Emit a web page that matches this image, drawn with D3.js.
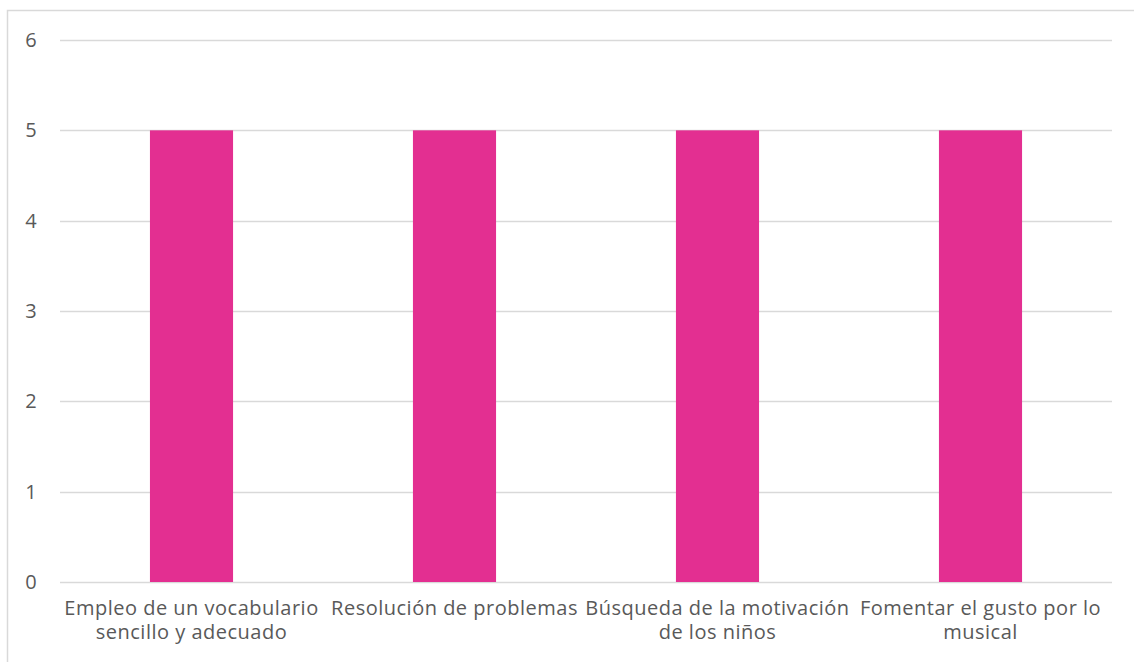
<!DOCTYPE html>
<html>
<head>
<meta charset="utf-8">
<script src="https://cdn.jsdelivr.net/npm/d3@7"></script>
<style>
  body { margin: 0; background: #fff; }
  svg text { font-family: "Open Sans", sans-serif; fill: #595959; }
</style>
</head>
<body>
<div id="cont"></div>
<script>
// data //
var categories = ["Empleo de un vocabulario sencillo y adecuado", "Resolución de problemas",
  "Búsqueda de la motivación de los niños", "Fomentar el gusto por lo musical"];
var values = [5, 5, 5, 5];
var yTicks = [0, 1, 2, 3, 4, 5, 6];

var W = 1134, H = 662;
var svg = d3.select("#cont").append("svg").attr("width", W).attr("height", H);

// outer frame (only top and left are visible in the picture)
svg.append("path")
  .attr("d", "M7.5," + H + "V10.5H" + W)
  .attr("fill", "none").attr("stroke", "#d9d9d9").attr("stroke-width", 1.5);

var mLeft = 60, mRight = 1112, mTop = 40, mBottom = 582;

var x = d3.scaleBand().domain(categories).range([mLeft, mRight]).padding(0);
var y = d3.scaleLinear().domain([0, 6]).range([mBottom, mTop]);

// grid
svg.append("g").selectAll("line").data(yTicks).join("line")
  .attr("x1", mLeft).attr("x2", mRight)
  .attr("y1", function(d) { return Math.round(y(d)) + 0.5; })
  .attr("y2", function(d) { return Math.round(y(d)) + 0.5; })
  .attr("stroke", "#d9d9d9").attr("stroke-width", 1.3);

// y labels
svg.append("g").selectAll("text").data(yTicks).join("text")
  .attr("x", 31).attr("y", function(d) { return y(d); })
  .attr("dy", "0.35em").attr("text-anchor", "middle")
  .attr("font-size", 20)
  .text(function(d) { return d; });

// bars
var bw = x.bandwidth() * 0.316;
svg.append("g").selectAll("rect").data(values).join("rect")
  .attr("x", function(d, i) { return x(categories[i]) + x.bandwidth() / 2 - bw / 2; })
  .attr("width", bw)
  .attr("y", function(d) { return y(d); })
  .attr("height", function(d) { return y(0) - y(d); })
  .attr("fill", "#e32f91");

// x labels, wrapped a bit wider than the band (like Excel does)
var wrapW = 275;
var labels = svg.append("g").selectAll("text").data(categories).join("text")
  .attr("x", function(d) { return x(d) + x.bandwidth() / 2; })
  .attr("y", 615)
  .attr("text-anchor", "middle")
  .attr("font-size", 20)
  .attr("letter-spacing", 0.5);

labels.each(function(d) {
  var t = d3.select(this), words = d.split(" "), line = [];
  var cx = t.attr("x");
  var tspan = t.append("tspan").attr("x", cx).attr("dy", 0);
  words.forEach(function(w) {
    line.push(w);
    tspan.text(line.join(" "));
    if (tspan.node().getComputedTextLength() > wrapW && line.length > 1) {
      line.pop();
      tspan.text(line.join(" "));
      line = [w];
      tspan = t.append("tspan").attr("x", cx).attr("dy", 24).text(w);
    }
  });
});
</script>
</body>
</html>
